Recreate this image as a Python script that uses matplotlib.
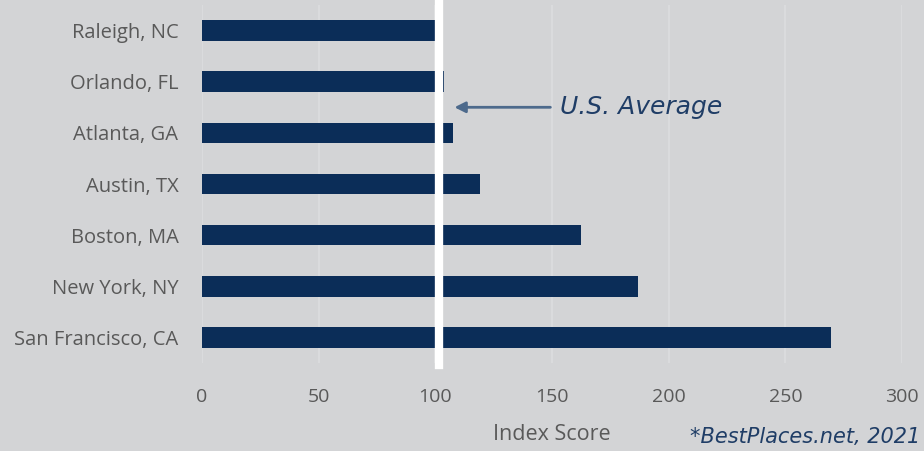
import matplotlib.pyplot as plt

cities = ['Raleigh, NC', 'Orlando, FL', 'Atlanta, GA', 'Austin, TX',
          'Boston, MA', 'New York, NY', 'San Francisco, CA']
scores = [100, 103.6, 107.5, 119, 162.5, 187, 269.5]
ticks = [0, 50, 100, 150, 200, 250, 300]

bg = '#d3d4d6'
bar_color = '#0b2d58'
text_gray = '#595959'
navy_text = '#1f3d66'

fig = plt.figure(figsize=(9.24, 4.51), dpi=100, facecolor=bg)
ax = fig.add_axes([202 / 924, 1 - 363 / 451, 700 / 924, 358 / 451], facecolor=bg)

# faint grid
for t in ticks:
    ax.axvline(t, color='#dcdddf', lw=1.2, zorder=0)

ax.barh(range(len(cities)), scores, height=0.4, color=bar_color, zorder=2)
ax.set_ylim(len(cities) - 0.5, -0.5)
ax.set_xlim(0, 300)

# US average marker
ax.axvline(101.7, ymin=-0.005, ymax=1.005, color='white', lw=6, zorder=3, clip_on=False)

ax.set_yticks(range(len(cities)))
ax.set_yticklabels(cities, fontsize=14.5, color=text_gray, family='Open Sans')
ax.set_xticks(ticks)
ax.set_xticklabels([str(t) for t in ticks], fontsize=14, color=text_gray, family='Open Sans')
ax.tick_params(length=0, axis='y', pad=17)
ax.tick_params(length=0, axis='x', pad=18)
for s in ax.spines.values():
    s.set_visible(False)

ax.annotate('', xy=(107, 1.5), xytext=(150.5, 1.5),
            arrowprops=dict(arrowstyle='-|>', color='#4d6a8c', lw=2,
                            mutation_scale=16), zorder=4)
ax.text(153.5, 1.5, 'U.S. Average', fontsize=18, style='italic',
        color=navy_text, family='DejaVu Sans', va='center', ha='left')

fig.text(552 / 924, 1 - 434 / 451, 'Index Score', fontsize=15.5, color=text_gray,
         family='Open Sans', ha='center', va='center')
fig.text(920 / 924, 1 - 437 / 451, '*BestPlaces.net, 2021', fontsize=15,
         style='italic', color=navy_text, family='DejaVu Sans',
         ha='right', va='center')

plt.savefig('out.png', dpi=100, facecolor=bg)
